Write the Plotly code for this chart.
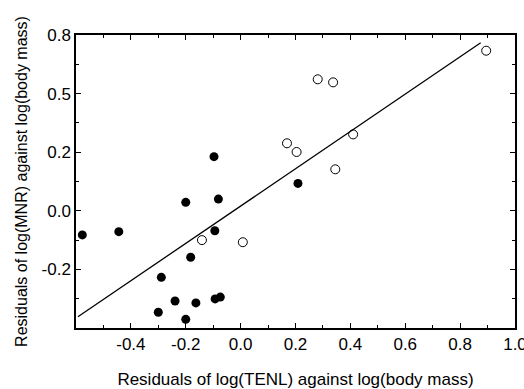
import plotly.graph_objects as go

# Filled circles (group 1)
filled_x = [-0.577, -0.444, -0.097, -0.200, -0.081, -0.094, -0.182, -0.289, -0.239,
            -0.300, -0.200, -0.163, -0.093, -0.074, 0.209]
filled_y = [-0.103, -0.089, 0.231, 0.036, 0.050, -0.085, -0.198, -0.284, -0.385,
            -0.433, -0.463, -0.393, -0.376, -0.368, 0.117]

# Open circles (group 2)
open_x = [-0.141, 0.008, 0.169, 0.204, 0.345, 0.410, 0.281, 0.337, 0.895]
open_y = [-0.125, -0.134, 0.288, 0.251, 0.177, 0.326, 0.561, 0.548, 0.683]

# Fitted line endpoints
fit_x = [-0.593, 0.875]
fit_y = [-0.452, 0.717]

# Axis ticks
x_tickvals = [-0.4, -0.2, 0.0, 0.2, 0.4, 0.6, 0.8, 1.0]
x_ticktext = ["-0.4", "-0.2", "0.0", "0.2", "0.4", "0.6", "0.8", "1.0"]
y_tickvals = [-0.25, 0.0, 0.25, 0.5, 0.75]
y_ticktext = ["-0.2", "0.0", "0.2", "0.5", "0.8"]

fig = go.Figure()
fig.add_trace(go.Scatter(x=fit_x, y=fit_y, mode="lines",
                         line=dict(color="black", width=1.3), showlegend=False))
fig.add_trace(go.Scatter(x=filled_x, y=filled_y, mode="markers",
                         marker=dict(symbol="circle", size=9, color="black",
                                     line=dict(color="black", width=0)),
                         showlegend=False))
fig.add_trace(go.Scatter(x=open_x, y=open_y, mode="markers",
                         marker=dict(symbol="circle-open", size=9, color="black",
                                     line=dict(width=1)),
                         showlegend=False))

font_family = "Liberation Sans, Arial, sans-serif"
fig.update_layout(
    width=524, height=389,
    margin=dict(l=76, r=9, t=35, b=61),
    paper_bgcolor="white", plot_bgcolor="white",
    font=dict(family=font_family, size=17, color="black"),
    xaxis=dict(
        range=[-0.6, 1.0], tickvals=x_tickvals, ticktext=x_ticktext,
        ticks="inside", ticklen=5, tickwidth=1.3, tickcolor="black",
        minor=dict(ticks="inside", dtick=0.1, tick0=0, ticklen=3, tickwidth=1.1, tickcolor="black"),
        showline=True, linecolor="black", linewidth=1.5, mirror="ticks",
        showgrid=False, zeroline=False, automargin=False,
        ticklabeloverflow="allow",
        tickfont=dict(size=17),
        title=dict(text="Residuals of log(TENL) against log(body mass)",
                   font=dict(size=17), standoff=22),
    ),
    yaxis=dict(
        range=[-0.5, 0.75], tickvals=y_tickvals, ticktext=y_ticktext,
        ticks="inside", ticklen=5, tickwidth=1.3, tickcolor="black",
        minor=dict(ticks="inside", dtick=0.125, tick0=0, ticklen=3, tickwidth=1.1, tickcolor="black"),
        showline=True, linecolor="black", linewidth=1.5, mirror="ticks",
        showgrid=False, zeroline=False, automargin=False,
        ticklabeloverflow="allow",
        tickfont=dict(size=17),
        title=dict(text="Residuals of log(MNR) against log(body mass)",
                   font=dict(size=16), standoff=10),
    ),
)

fig.write_html("out.html", config={"displayModeBar": False},
               post_script="document.body.style.margin='0';")
